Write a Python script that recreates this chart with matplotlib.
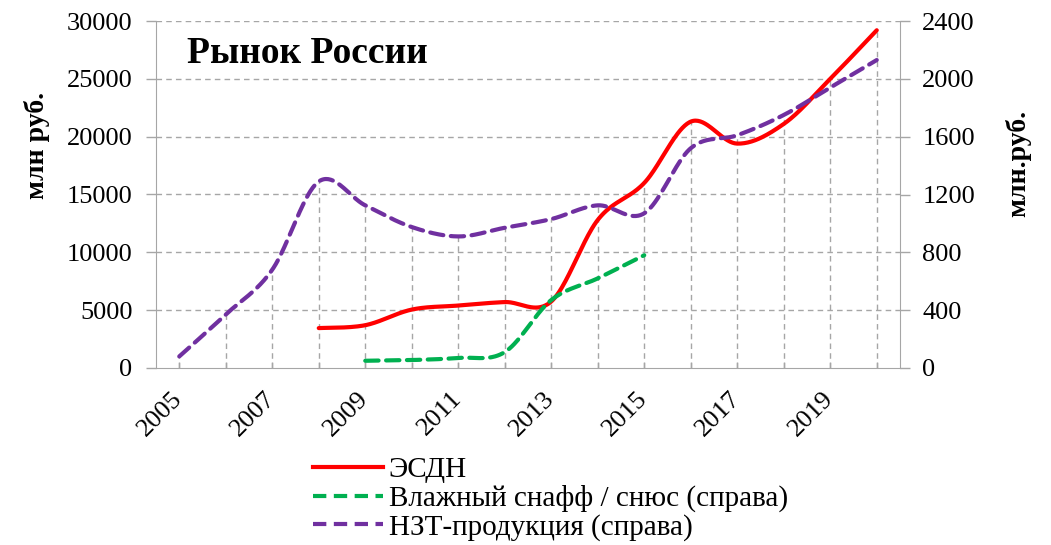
import numpy as np
import matplotlib.pyplot as plt
from matplotlib.lines import Line2D
from matplotlib.transforms import ScaledTranslation

plt.rcParams['font.family'] = ['Liberation Serif', 'DejaVu Serif']

# Daten
years = list(range(2005, 2021))
esdn_years = list(range(2008, 2021))
esdn = [3450, 3700, 5050, 5400, 5700, 5750, 12800, 16000, 21300, 19400, 21100, 25000, 29200]
snus_years = list(range(2009, 2016))
snus = [50, 55, 70, 110, 470, 620, 780]
nzt_years = list(range(2005, 2021))
nzt = [80, 370, 680, 1290, 1125, 975, 910, 970, 1030, 1125, 1070, 1520, 1610, 1750, 1940, 2130]
tick_years = [2005, 2007, 2009, 2011, 2013, 2015, 2017, 2019]

grid_col = '#A6A6A6'


# Excel-artige Glättung (Bezier durch die Punkte)
def smooth(x, y, n=40):
    x = np.asarray(x, float)
    y = np.asarray(y, float)
    px = np.concatenate([[x[0]], x, [x[-1]]])
    py = np.concatenate([[y[0]], y, [y[-1]]])
    xs, ys = [], []
    t = np.linspace(0, 1, n)
    for i in range(1, len(px) - 2):
        p0 = np.array([px[i], py[i]])
        p3 = np.array([px[i + 1], py[i + 1]])
        p1 = p0 + (np.array([px[i + 1], py[i + 1]]) - np.array([px[i - 1], py[i - 1]])) / 6
        p2 = p3 - (np.array([px[i + 2], py[i + 2]]) - np.array([px[i], py[i]])) / 6
        b = ((1 - t) ** 3)[:, None] * p0 + (3 * (1 - t) ** 2 * t)[:, None] * p1 \
            + (3 * (1 - t) * t ** 2)[:, None] * p2 + (t ** 3)[:, None] * p3
        xs.extend(b[:, 0])
        ys.extend(b[:, 1])
    return np.array(xs), np.array(ys)


fig = plt.figure(figsize=(10.51, 5.45), dpi=100)
ax = fig.add_axes([156 / 1051, 1 - 368 / 545, (900 - 156) / 1051, 347 / 545])
ax2 = ax.twinx()

ratio = 30000 / 2400

# horizontale Gitterlinien
for v in range(5000, 30001, 5000):
    ax.axhline(v, color=grid_col, lw=1, ls=(0, (4, 3)), zorder=0)

# Lotlinien je Jahr
d_esdn = dict(zip(esdn_years, esdn))
d_snus = dict(zip(snus_years, snus))
d_nzt = dict(zip(nzt_years, nzt))
for yr in years:
    vals = []
    if yr in d_esdn:
        vals.append(d_esdn[yr])
    if yr in d_snus:
        vals.append(d_snus[yr] * ratio)
    if yr in d_nzt:
        vals.append(d_nzt[yr] * ratio)
    if vals:
        ax.vlines(yr, 0, max(vals), color=grid_col, lw=1, ls=(0, (4, 3)), zorder=0)

sx, sy = smooth(esdn_years, esdn)
ax.plot(sx, sy, color='#FF0000', lw=3, solid_capstyle='round', zorder=5)
gx, gy = smooth(snus_years, snus)
ax2.plot(gx, gy, color='#00B050', lw=3, ls=(0, (3.2, 1.8)), dash_capstyle='round', zorder=4)
nx, ny = smooth(nzt_years, nzt)
ax2.plot(nx, ny, color='#7030A0', lw=3, ls=(0, (3.2, 1.8)), dash_capstyle='round', zorder=4)

ax.set_xlim(2004.5, 2020.5)
ax.set_ylim(0, 30000)
ax2.set_ylim(0, 2400)
ax.set_yticks(range(0, 30001, 5000))
ax2.set_yticks(range(0, 2401, 400))
ax.set_xticks(years)
ax.set_xticklabels([str(y) if y in tick_years else '' for y in years],
                   rotation=45, ha='right', rotation_mode='anchor', fontsize=19)

for a in (ax, ax2):
    for s in a.spines.values():
        s.set_color(grid_col)
    a.spines['top'].set_visible(False)
    a.tick_params(colors=grid_col, labelcolor='black', labelsize=19, length=7, width=1)
ax.tick_params(axis='y', pad=10)
ax2.tick_params(axis='y', pad=9)
ax2.spines['left'].set_visible(False)
ax2.spines['bottom'].set_visible(False)
ax.spines['right'].set_visible(False)
ax.tick_params(axis='x', direction='in', length=4, pad=14)

# Jahreszahlen etwas nach links (nach tick_params, sonst wird es zurückgesetzt)
shift = ScaledTranslation(-0.08, 0, fig.dpi_scale_trans)
for lbl in ax.get_xticklabels():
    lbl.set_transform(lbl.get_transform() + shift)

fig.text(37 / 1051, 1 - 145 / 545, 'млн руб.', rotation=90, fontsize=20, fontweight='bold',
         ha='center', va='center')
fig.text(1018 / 1051, 1 - 163 / 545, 'млн.руб.', rotation=90, fontsize=20, fontweight='bold',
         ha='center', va='center')
fig.text(187 / 1051, 1 - 63 / 545, 'Рынок России', fontsize=27, fontweight='bold', va='baseline')

handles = [
    Line2D([], [], color='#FF0000', lw=3),
    Line2D([], [], color='#00B050', lw=3, ls=(0, (3.2, 1.8))),
    Line2D([], [], color='#7030A0', lw=3, ls=(0, (3.2, 1.8))),
]
labels = ['ЭСДН', 'Влажный снафф / снюс (справа)', 'НЗТ-продукция (справа)']
fig.legend(handles, labels, loc='upper left', bbox_to_anchor=(313 / 1051, 1 - 457 / 545),
           frameon=False, fontsize=21, handlelength=2.4, handletextpad=0.2,
           labelspacing=0.05, borderpad=0, borderaxespad=0)

fig.savefig('out.png', dpi=100)
